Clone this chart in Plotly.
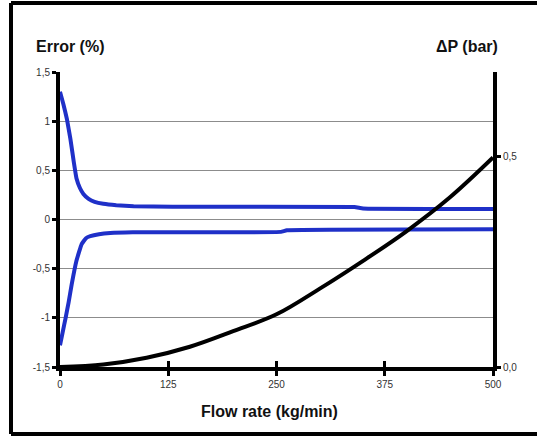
import plotly.graph_objects as go

# ---- data ----
err_up_x = [0, 4, 8, 12, 16, 19, 23, 27, 33, 40, 50, 65, 85, 130, 340, 350, 500]
err_up_y = [1.30, 1.17, 1.02, 0.82, 0.58, 0.42, 0.32, 0.26, 0.21, 0.18, 0.16, 0.145, 0.135, 0.13, 0.127, 0.112, 0.108]

err_lo_x = [0, 3, 6.5, 10, 13.5, 19, 25, 30, 35, 45, 58, 84, 255, 262, 500]
err_lo_y = [-1.28, -1.15, -1.0, -0.84, -0.66, -0.42, -0.25, -0.19, -0.17, -0.15, -0.137, -0.13, -0.126, -0.11, -0.10]

dp_x = [0, 50, 100, 150, 200, 250, 300, 350, 400, 450, 500]
dp_y = [0.0, 0.006, 0.022, 0.048, 0.085, 0.125, 0.186, 0.252, 0.322, 0.402, 0.497]

x_ticks = [0, 125, 250, 375, 500]
x_ticktext = ["0", "125", "250", "375", "500"]
y_ticks = [1.5, 1.0, 0.5, 0.0, -0.5, -1.0, -1.5]
y_ticktext = ["1,5", "1", "0,5", "0", "-0,5", "-1", "-1,5"]
y2_ticks = [0.0, 0.5]
y2_ticktext = ["0,0", "0,5"]

W, H = 537, 439
L, R, T, B = 60, 44, 72, 72
PW, PH = W - L - R, H - T - B

BLUE = "#1f30c8"

fig = go.Figure()
fig.add_trace(go.Scatter(x=err_up_x, y=err_up_y, mode="lines",
                         line=dict(color=BLUE, width=4, shape="spline", smoothing=0.3),
                         hoverinfo="skip"))
fig.add_trace(go.Scatter(x=err_lo_x, y=err_lo_y, mode="lines",
                         line=dict(color=BLUE, width=4, shape="spline", smoothing=0.3),
                         hoverinfo="skip"))
fig.add_trace(go.Scatter(x=dp_x, y=dp_y, mode="lines", yaxis="y2",
                         line=dict(color="black", width=4, shape="spline", smoothing=1.0),
                         hoverinfo="skip"))
# empty helper trace so the inside-tick overlay axis gets drawn (cross-style ticks)
fig.add_trace(go.Scatter(x=[], y=[], xaxis="x2", yaxis="y", mode="lines",
                         hoverinfo="skip", showlegend=False))

tickfont = dict(family="Liberation Sans, Arial, sans-serif", size=10, color="#333333")

fig.update_layout(
    width=W, height=H,
    margin=dict(l=L, r=R, t=T, b=B),
    paper_bgcolor="white", plot_bgcolor="white",
    showlegend=False,
    separators=", ",
    xaxis=dict(range=[0, 500], tickvals=x_ticks, ticktext=x_ticktext,
               showgrid=False, zeroline=False,
               showline=True, linecolor="black", linewidth=4,
               ticks="outside", ticklen=5, tickwidth=3, tickcolor="black",
               tickfont=tickfont, fixedrange=True),
    xaxis2=dict(range=[0, 500], tickvals=x_ticks, overlaying="x", anchor="y",
                side="bottom", showgrid=False, zeroline=False, showline=False,
                ticks="inside", ticklen=6, tickwidth=3, tickcolor="black",
                showticklabels=False, fixedrange=True),
    yaxis=dict(range=[-1.5, 1.5], tickvals=y_ticks, ticktext=y_ticktext,
               showgrid=True, gridcolor="#8c8c8c", gridwidth=1, zeroline=False,
               showline=True, linecolor="black", linewidth=4,
               ticks="outside", ticklen=4, tickwidth=3, tickcolor="black",
               tickfont=tickfont, fixedrange=True),
    yaxis2=dict(range=[0, 0.7], tickvals=y2_ticks, ticktext=y2_ticktext,
                overlaying="y", side="right", showgrid=False, zeroline=False,
                showline=True, linecolor="black", linewidth=4,
                ticks="outside", ticklen=4, tickwidth=3, tickcolor="black",
                tickfont=tickfont, fixedrange=True),
    font=dict(family="Liberation Sans, Arial, sans-serif"),
)

def px_x(p):
    return (p - L) / PW

def px_y(p):
    return (H - B - p) / PH

titlefont = dict(family="Liberation Sans, Arial, sans-serif", size=16, color="#111111")
fig.add_annotation(text="<b>Error (%)</b>", xref="paper", yref="paper",
                   x=px_x(34), y=px_y(46), xanchor="left", yanchor="middle",
                   showarrow=False, font=titlefont)
fig.add_annotation(text="<b>ΔP (bar)</b>", xref="paper", yref="paper",
                   x=px_x(500), y=px_y(46), xanchor="right", yanchor="middle",
                   showarrow=False, font=titlefont)
fig.add_annotation(text="<b>Flow rate (kg/min)</b>", xref="paper", yref="paper",
                   x=px_x(269), y=px_y(411), xanchor="center", yanchor="middle",
                   showarrow=False, font=titlefont)

# open-sided frame: top, left, bottom (right side lies beyond the picture)
for (xa, ya, xb, yb) in [(11, 3, 537, 3), (11, 3, 11, 434), (11, 434, 537, 434)]:
    fig.add_shape(type="line", xref="paper", yref="paper",
                  x0=px_x(xa), y0=px_y(ya), x1=px_x(xb), y1=px_y(yb),
                  line=dict(color="black", width=4), layer="above")

fig.write_html("out.html", config={"displayModeBar": False},
               post_script="document.body.style.margin='0';document.body.style.overflow='hidden';")
